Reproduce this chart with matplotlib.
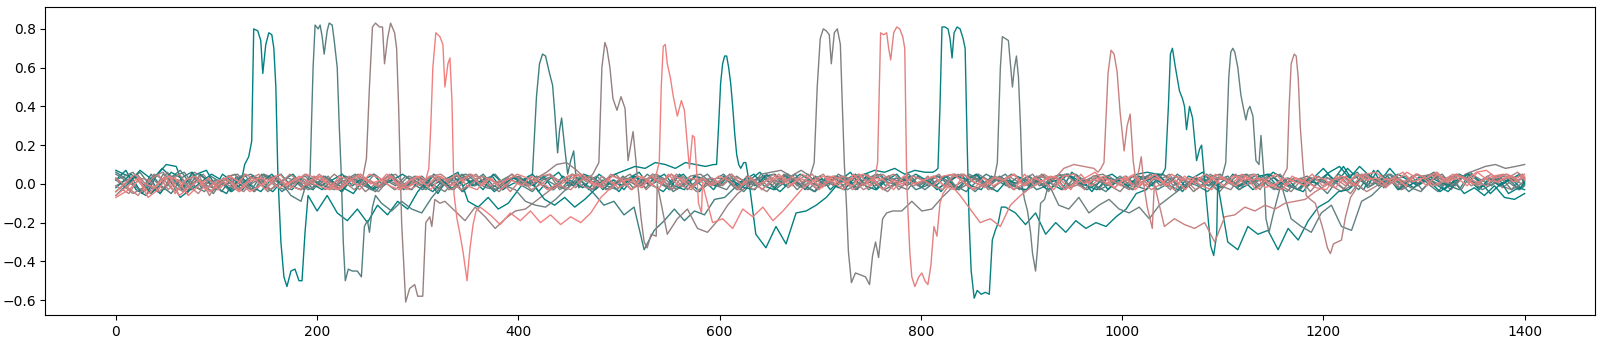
import numpy as np
import matplotlib.pyplot as plt

# baseline samples every 10 steps (values in hundredths), 0..1400
x_base = np.arange(0, 1401, 10)
# small per-trace shift of the sampling grid
phases = [0, 4, 7, 2, 5, 8, 3, 6, 1, 9, 4, 7, 2, 5, 8, 3]

base_0 = [2, 7, -3, -6, 4, 10, 9, -5, 5, 7,
          -2, -5, 4, 8, 0, 0, 0, -48, -47, -8,
          -14, -6, -15, -19, -13, -20, -11, -16, -9, -13,
          -4, 2, -5, 3, 6, -9, -12, -7, -13, -10,
          -3, 4, -4, 2, 6, -1, 3, -3, 5, 1,
          -4, 3, 6, -1, 2, -3, 5, 1, -4, 3,
          -1, 5, -3, 2, 6, 0, -4, 1, 5, 2,
          4, -3, 2, 6, -1, 1, 5, -2, 2, 4,
          -2, 3, -4, 2, 5, -1, -3, 4, 1, 5,
          3, -2, 5, 0, -3, 6, 2, -4, 3, 5,
          1, -3, 4, -1, 5, 2, -4, 3, 6, 0,
          -2, 5, 2, -3, 1, 6, 3, -2, -4, 3,
          8, 2, 9, 1, -3, 7, -2, 4, 1, -2,
          3, 6, -3, 1, -5, -2, -6, -1, -7, -8,
          -5]
ev_x_0 = [125, 128, 132, 135, 137, 141, 144, 146, 149, 152, 155, 157, 159, 161,
          164, 167, 170, 174, 178, 182, 185, 188, 191]
ev_y_0 = [2, 10, 14, 22, 80, 79, 74, 57, 72, 78, 77, 70, 50, 5,
          -30, -48, -53, -45, -44, -50, -50, -25, -6]

base_1 = [-4, 2, 6, -1, -5, 3, 7, 0, -3, 4,
          1, -4, 3, 5, 2, -3, 1, -6, -9, -4,
          0, 0, 0, 0, 0, -46, -10, -14, -9, -13,
          -15, -7, -1, 3, -4, 1, 4, -2, 2, 5,
          -1, -4, 2, 4, -2, 5, 1, -3, 2, -1,
          4, -2, 1, 5, 2, -4, 0, 3, -2, 2,
          5, 0, -4, 2, 4, -2, 5, 1, -1, -4,
          2, 4, -2, 1, 5, 2, -3, 0, 4, 1,
          -3, 1, 4, 5, 0, -4, 1, 2, 5, -1,
          -4, 2, -1, 4, -3, 5, 1, -1, -4, 2,
          4, -1, -3, 5, 1, -4, 0, 3, 2, -3,
          0, 4, 5, -2, 2, -1, -4, 2, 4, 0,
          -5, 2, 4, 6, -2, 1, 4, -3, 2, 5,
          0, -4, 2, 5, 3, -2, 0, 4, 1, -3,
          0]
ev_x_1 = [188, 193, 196, 198, 201, 203, 205, 207, 210, 212, 215, 217, 220, 222,
          224, 226, 228, 231, 235, 240, 244, 247, 250, 252, 255, 258]
ev_y_1 = [-2, 5, 60, 82, 80, 82, 76, 67, 79, 83, 82, 74, 60, 30,
          5, -30, -50, -44, -45, -45, -48, -22, -19, -25, -12, -6]

base_2 = [2, -5, -2, 4, 6, -1, -4, 2, 5, -2,
          3, -1, -4, 2, 5, 3, -1, 2, -3, 4,
          0, 5, 1, -3, 4, 0, 0, 0, 0, 0,
          0, -20, -9, -14, -19, -12, -17, -23, -18, -14,
          -13, -9, -5, -1, 3, -2, 4, -3, 2, 5,
          -1, 4, -3, 2, -1, 5, 1, -4, 0, 3,
          2, -3, 4, -1, -4, 2, 5, -1, 2, -3,
          0, 4, 1, -3, 5, -1, -4, 2, 3, -1,
          4, -2, 0, 5, 1, 3, -3, 0, 4, 1,
          -1, 2, -4, 3, 5, -1, 2, -3, 4, 0,
          -3, 4, -1, 2, 5, -2, 0, 3, 1, -4,
          2, -1, 4, -3, 5, 1, -2, 3, -4, 2,
          3, -1, -5, 2, 4, -1, 3, -3, 2, 0,
          5, 1, -3, 4, -1, 2, 5, -1, -3, 3,
          1]
ev_x_2 = [243, 246, 249, 252, 255, 258, 262, 265, 267, 270, 273, 277, 279, 281,
          284, 288, 292, 297, 300, 305, 308, 312, 314, 317, 322]
ev_y_2 = [0, 5, 13, 50, 81, 83, 81, 81, 62, 75, 83, 78, 70, 40,
          -20, -61, -54, -52, -58, -58, -20, -17, -22, -8, -10]

base_3 = [-6, -1, 3, -7, -3, 4, 2, -6, -1, 3,
          -3, 2, -4, 1, 3, 2, -2, 0, 4, 1,
          -1, -3, 4, 2, -1, 5, 3, -1, -3, 2,
          4, 0, 0, 0, 0, 0, 0, -16, -21, -15,
          -19, -14, -20, -16, -21, -17, -20, -15, -7, -2,
          1, 3, -2, 4, 0, 5, 2, -2, 3, -1,
          2, 5, -1, 3, -3, 2, 4, -1, 5, 2,
          -2, 4, 2, -1, 5, 3, -3, 2, 0, 4,
          2, -1, 4, 5, 1, -3, 3, -1, 2, 5,
          -1, 3, 1, -3, 4, 5, 0, 2, 4, -2,
          2, 5, -1, 3, 1, -3, 4, 0, 5, 2,
          -1, 4, 2, 5, -2, 0, 3, 1, -1, 4,
          2, -2, 4, -1, 5, 6, 2, 3, -1, 5,
          3, 6, 1, 5, 2, 6, 7, 3, 5, 3,
          5]
ev_x_3 = [308, 311, 313, 315, 318, 322, 325, 327, 330, 332, 334, 336, 339, 342,
          345, 349, 352, 355, 358, 362]
ev_y_3 = [2, 8, 30, 60, 78, 76, 72, 50, 62, 65, 43, -5, -18, -26,
          -35, -50, -33, -21, -14, -12]

base_4 = [6, 1, -4, 5, -1, -5, 3, 6, -2, 2,
          -4, 3, -1, -3, 5, 2, -4, 0, 2, -2,
          2, -1, -4, 3, 1, -3, 0, 4, -2, 0,
          -3, 4, -1, 2, -4, 1, 5, -1, -3, 3,
          0, 0, 0, 0, 0, 0, 0, -5, -11, -9,
          -16, -12, -34, -24, -19, -13, -19, -14, -16, -8,
          -7, -2, 2, -1, 4, -3, 1, 5, -1, -4,
          2, -1, 4, -3, 1, 5, -1, 3, 2, -3,
          -1, 4, 2, -1, -4, 1, 5, 2, -1, 3,
          2, -3, -1, 4, 5, 1, -3, 0, 3, 2,
          -1, 2, 4, -3, 0, 5, 1, -1, -4, 2,
          4, -1, 2, 5, -1, -3, 3, 1, -1, 4,
          0, 5, 2, -3, 4, -1, 5, 1, -4, 0,
          2, 4, -1, -3, 5, 1, 3, -1, 2, -3,
          -1]
ev_x_4 = [410, 414, 418, 421, 424, 427, 431, 434, 436, 439, 441, 443, 446, 449,
          452, 455, 457, 460]
ev_y_4 = [0, 5, 45, 62, 67, 66, 57, 51, 38, 16, 28, 34, 19, 5,
          12, 17, 5, -2]

base_5 = [-1, 4, -2, 5, 2, -4, 0, 6, 3, -3,
          2, 5, -1, -4, 2, 4, -2, 1, 5, 1,
          -3, 1, 4, 2, -4, 0, 3, 5, -1, 3,
          2, -3, 1, 4, 2, 5, -1, -3, 3, 1,
          -1, 3, 6, 10, 11, 7, 2, 4, -1, 0,
          0, 0, 0, 0, -26, -18, -13, -23, -25, -19,
          -11, -5, -1, 3, -1, 4, -2, 2, 5, -1,
          3, -2, 1, 5, 2, -1, 4, -3, 2, 0,
          2, 5, -1, -3, 4, 1, -1, 3, -2, 2,
          -1, 4, 2, 5, -2, 0, 3, 1, -1, -4,
          2, -1, 5, 2, -3, 4, 0, 2, 5, -1,
          -3, 4, 0, 2, 5, -1, -4, 2, 3, 1,
          -1, -4, 2, 5, 0, 3, 2, -3, 0, 4,
          5, 2, -1, 3, 1, -1, 3, -2, 2, 0,
          3]
ev_x_5 = [474, 477, 480, 483, 486, 488, 491, 494, 498, 502, 506, 509, 511, 514,
          517, 519, 522, 525, 528, 532, 537]
ev_y_5 = [5, 8, 11, 60, 73, 70, 60, 44, 38, 45, 39, 12, 18, 27,
          11, -2, -18, -30, -33, -26, -27]

base_6 = [-7, -3, 2, -5, 1, 4, -6, -2, 2, -4,
          0, 4, 1, -4, -1, 2, 5, -1, -3, 2,
          4, -1, -3, 2, 5, 0, 2, 4, -2, -1,
          2, -3, 4, -1, 2, 5, -1, 3, -3, 2,
          -1, 4, 1, -3, 0, 3, 5, 1, -2, 4,
          2, -3, 4, -1, 0, 0, 0, 0, 0, -20,
          -18, -23, -13, -17, -12, -19, -14, -8, -2, 1,
          4, 1, -3, 5, -1, 3, 2, -3, 4, 0,
          2, 4, -1, -3, 5, 1, -2, 3, 2, -3,
          5, -1, 2, 4, -3, 0, 3, 6, 1, -2,
          4, -3, 2, 5, -1, 2, -3, 4, 0, 5,
          2, -1, 4, -3, 2, 5, -1, 3, 1, -2,
          -3, 4, 0, 5, 2, 3, -1, 2, 6, 3,
          -1, 5, 1, 3, -1, 6, 2, 1, 4, 2,
          4]
ev_x_6 = [536, 540, 542, 544, 546, 548, 551, 554, 558, 562, 565, 568, 570, 573,
          575, 577, 579, 582]
ev_y_6 = [3, 11, 50, 71, 72, 62, 55, 45, 35, 43, 38, 20, 8, 25,
          24, 8, -10, -15]

base_7 = [7, 3, -5, 2, 8, 3, -3, 6, -1, -4,
          5, 1, -3, 4, -1, -4, 2, 5, -1, -3,
          4, 1, -2, -5, 2, 5, -1, 3, -3, 2,
          -1, 5, 1, -3, 4, -1, 2, -4, 0, 4,
          2, -1, -8, -11, -7, -12, -8, -3, 2, 5,
          7, 9, 8, 11, 10, 8, 11, 10, 9, 11,
          0, 0, 0, 0, -33, -22, -31, -15, -14, -11,
          -7, -1, 3, -2, 4, -3, 2, 5, -1, 3,
          2, -3, 1, 4, 2, 5, -1, -4, 2, 0,
          4, 1, -3, 0, 5, 2, -1, 4, -3, 2,
          -1, 4, 2, 5, -1, -3, 4, 2, -1, 3,
          2, -3, 0, 4, 5, 1, -1, -3, 3, 2,
          6, 9, 3, 9, 4, 1, 8, 2, -1, 4,
          1, -4, 0, 3, 6, 1, -5, 0, 3, -2,
          1]
ev_x_7 = [594, 597, 599, 601, 603, 605, 607, 609, 611, 613, 615, 617, 619, 621,
          624, 626, 629, 632, 636]
ev_y_7 = [10, 10, 30, 52, 62, 66, 66, 60, 52, 40, 26, 15, 10, 8,
          11, 11, 2, -10, -26]

base_8 = [3, -2, 5, -1, -4, 6, 1, -5, 3, -1,
          -3, 4, 5, -1, 2, -4, 0, 3, 1, -3,
          -1, 4, -3, 2, 5, -1, -4, 2, -1, 4,
          2, -1, 4, -3, 0, 5, 1, -1, -4, 2,
          4, -1, 2, 5, -3, 0, 3, 2, -1, -3,
          2, 5, -1, 3, 1, -3, 0, 4, 5, 1,
          -1, 3, 1, -2, 5, 6, 7, 4, 7, 5,
          0, 0, 0, 0, 0, 0, 0, 0, -14, -9,
          -14, -13, -7, -2, 1, 4, 0, -3, 3, -1,
          2, 5, -1, 3, -3, 2, -1, 4, 5, 1,
          -1, -3, 4, 2, 5, -1, 2, -4, 0, 4,
          2, -1, 4, 5, 1, -3, 0, 3, 2, -1,
          4, 1, -3, 0, 5, 3, -1, 2, 4, 0,
          2, 5, 3, -1, 5, 7, 9, 10, 8, 9,
          10]
ev_x_8 = [690, 694, 697, 700, 703, 706, 709, 711, 714, 717, 720, 722, 724, 726,
          728, 731, 735, 740, 745, 749, 752, 755, 758, 762, 766, 772, 778]
ev_y_8 = [4, 11, 50, 75, 80, 79, 77, 62, 78, 80, 72, 40, 10, -10,
          -35, -51, -46, -47, -48, -52, -37, -30, -38, -18, -15, -14, -14]

base_9 = [-4, 5, 0, -2, 4, -5, 2, 4, -3, 1,
          3, -1, 5, 2, -3, 4, 0, 2, 5, 3,
          1, -3, 0, 4, 2, -1, 5, 1, -3, 4,
          -1, 4, 2, 5, -1, -3, 3, 0, 2, 5,
          3, 1, -3, 0, 4, 5, 1, -1, 3, -2,
          0, 4, 2, -3, 5, -1, 3, 2, -1, 4,
          2, -3, 4, 0, 2, 5, -1, 3, 1, -3,
          4, 0, 2, 5, -1, 3, 1, -2, 0, 0,
          0, 0, 0, -6, -13, -20, -18, -22, -11, -6,
          -2, 1, 4, 2, -3, 5, -1, 3, 2, -1,
          4, 1, -3, 0, 5, 2, 3, -1, -3, 4,
          0, 5, 2, 3, -1, -3, 4, 1, 5, -1,
          2, 4, -1, 5, 2, -1, 3, 6, 1, 3,
          -1, 2, 5, 3, 0, 2, 4, 5, 1, 3,
          2]
ev_x_9 = [752, 755, 757, 760, 763, 766, 768, 770, 773, 776, 779, 782, 784, 786,
          789, 791, 794, 798, 801, 804, 807, 810, 813, 816, 819, 822]
ev_y_9 = [2, 5, 11, 78, 77, 78, 70, 64, 78, 81, 80, 76, 70, 0,
          -35, -48, -53, -48, -46, -50, -52, -42, -22, -27, -10, -5]

base_10 = [-6, 1, 7, 3, -5, 2, -7, -3, 5, 0,
           2, -3, 4, -1, -4, 2, 5, -1, -3, 3,
           -1, 2, -4, 3, 0, -3, 2, 5, -1, -3,
           4, -1, 2, -3, 5, -1, 2, 4, -3, 0,
           2, 5, -1, -3, 4, 1, -2, 3, -3, 2,
           -1, 4, 2, -1, -4, 2, 5, -1, 2, -3,
           4, -1, 2, 5, -1, -3, 4, 2, -1, 3,
           2, -1, -3, 3, 5, 7, 6, 8, 5, 7,
           6, 0, 0, 0, 0, 0, 0, 0, -12, -15,
           -21, -15, -26, -20, -25, -19, -23, -20, -22, -17,
           -13, -5, -3, 2, -1, 4, -2, 2, 5, -1,
           3, -2, 1, 2, 5, -1, 3, -3, 2, 0,
           5, 1, 8, 3, -1, 7, 1, 5, 2, -1,
           3, -1, -4, 2, 5, -2, 0, 3, -5, -2,
           -3]
ev_x_10 = [812, 815, 817, 819, 821, 824, 827, 829, 831, 833, 836, 839, 842, 844,
           846, 848, 850, 853, 856, 860, 864, 868, 871, 874, 877, 880]
ev_y_10 = [6, 7, 8, 40, 81, 81, 80, 75, 65, 78, 81, 80, 75, 70,
           21, -20, -45, -59, -55, -57, -56, -57, -29, -24, -20, -12]

base_11 = [2, 6, -1, -4, 5, 1, -3, 4, 0, -5,
           3, -1, 2, -4, 5, 2, -1, 3, -3, 2,
           -1, -3, 4, 2, -1, 5, 1, -3, 0, 4,
           2, -1, -4, 2, 4, -1, 2, 5, -1, -3,
           -9, -11, -12, -8, -3, 1, 4, 2, -3, 0,
           3, 1, -2, 5, 2, -3, 0, 4, 2, -1,
           -3, 4, 0, 2, 5, -1, 3, -3, 2, -1,
           4, 2, -3, 0, 3, 5, 1, -1, -3, 4,
           -1, 2, 4, -3, 0, 5, 2, -1, 0, 0,
           0, 0, 0, -11, -13, -7, -15, -11, -8, -13,
           -15, -12, -18, -11, -7, -3, 0, 3, -1, 4,
           2, -3, 4, -1, 2, 5, -1, -3, 3, 2,
           -1, 4, -2, 2, -1, 4, 5, 1, -2, -4,
           2, -1, 4, -3, 5, 2, -1, 3, -3, 0,
           2]
ev_x_11 = [873, 876, 879, 881, 884, 887, 889, 891, 893, 895, 897, 899, 901, 903,
           906, 909, 911, 914, 916, 919, 923]
ev_y_11 = [3, 11, 60, 76, 75, 74, 62, 50, 60, 66, 55, 30, -2, -8,
           -14, -25, -36, -45, -33, -10, -8]

base_12 = [3, -2, -6, 1, 5, -3, 2, -1, -5, 2,
           -1, 4, -3, 2, 5, -1, 3, -3, 2, 0,
           5, 1, -2, 4, -3, 2, -1, 5, 1, -3,
           0, 4, 2, -3, -1, 5, 3, -1, 2, -4,
           2, -1, 4, 5, -1, -3, 2, 4, -1, 5,
           2, -3, 0, 4, 1, 5, -1, -3, 3, 0,
           2, 5, -1, 3, -3, 2, 0, 4, 1, 5,
           -1, 2, 4, -3, 0, 3, 5, 1, -1, 4,
           2, -1, -3, 4, 5, 1, -1, 3, 2, -3,
           0, 3, 5, 2, 8, 10, 9, 8, 0, 0,
           0, 0, 0, 0, -22, -18, -21, -23, -20, -30,
           -17, -16, -12, -14, -11, -13, -10, -9, -8, -4,
           -1, 3, -1, 4, 5, 1, -2, 3, 1, 5,
           3, -1, 2, 5, 3, 1, -1, 4, 5, 2,
           3]
ev_x_12 = [976, 979, 982, 986, 989, 992, 995, 998, 1000, 1002, 1005, 1008, 1011,
           1014, 1017, 1019, 1022, 1025, 1030]
ev_y_12 = [6, 8, 11, 57, 69, 67, 58, 37, 27, 17, 30, 36, 12,
           0, 8, 14, -2, -12, -23]

base_13 = [-2, 5, 1, -5, 0, 6, 3, -3, 1, 5,
           2, -4, 0, 4, 1, 5, -1, -3, 3, 0,
           -3, 2, 5, -1, 3, -3, 0, 2, 5, 1,
           -1, -4, 2, 4, -1, 2, -3, 5, 0, 3,
           2, -1, 4, -3, 2, -1, 5, 3, -1, 2,
           -3, 4, 0, 2, 5, -1, -3, 4, 2, -1,
           3, 1, -2, -3, 4, 5, -1, 2, -3, 4,
           -1, 4, 2, 5, -1, -3, 3, 0, 2, 5,
           2, -1, 4, -3, 2, 5, -1, 3, 1, -2,
           -3, 4, 0, 2, 5, 1, -1, -3, 3, 0,
           2, 5, 6, 5, 0, 0, 0, 0, 0, 0,
           -30, -34, -22, -26, -24, -34, -23, -29, -19, -12,
           -9, -4, -3, 2, 5, -1, 3, -3, 2, 0,
           4, 1, -1, 5, 2, -3, 3, -1, 2, 5,
           0]
ev_x_13 = [1040, 1043, 1046, 1048, 1050, 1053, 1057, 1060, 1062, 1064, 1067, 1070,
           1074, 1077, 1079, 1082, 1085, 1088, 1091, 1094]
ev_y_13 = [5, 8, 40, 67, 70, 60, 48, 44, 40, 28, 40, 34,
           12, 18, 20, 2, -15, -32, -37, -26]

base_14 = [5, -1, -4, 2, -3, 4, 6, -1, -4, 2,
           -1, 2, 5, -3, 4, -1, -3, 2, 4, -1,
           4, -1, 2, 5, -1, -4, 2, -1, 4, 1,
           -3, 2, -1, 4, 5, 1, -2, -3, 2, 4,
           -1, 4, 2, -1, -3, 5, 1, 4, -1, -3,
           2, -1, 5, 1, -2, 4, -3, 2, 5, -1,
           4, -3, 2, -1, 4, 1, 5, -1, -3, 2,
           -1, 5, 2, 4, -3, 0, 4, 1, 5, -1,
           2, 4, -1, -3, 5, 2, -1, 4, 1, -3,
           4, -1, 2, 5, -1, 3, 1, -3, 0, 4,
           -1, 2, 5, -1, 3, -3, 2, -1, 4, 5,
           0, 0, 0, 0, 0, 0, -18, -22, -25, -15,
           -11, -22, -24, -9, -6, -1, 3, -1, 4, -3,
           2, 5, -1, 4, 1, -3, 0, 4, 2, 5,
           2]
ev_x_14 = [1099, 1103, 1106, 1108, 1110, 1112, 1115, 1118, 1121, 1123, 1125, 1127,
           1130, 1133, 1136, 1138, 1141, 1143, 1146, 1150]
ev_y_14 = [3, 11, 55, 68, 70, 68, 60, 46, 38, 33, 38, 40,
           35, 12, 10, 25, 4, -18, -25, -16]

base_15 = [-1, -5, 3, 2, -4, 1, 5, -2, 4, -6,
           2, -1, -4, 3, 2, -3, 0, 5, 1, -1,
           4, -3, 2, -1, 5, 1, -2, 4, -3, 2,
           -1, 4, 5, 1, -3, 0, 4, 2, -1, 5,
           2, -3, 0, 4, 1, 5, -1, -3, 4, 0,
           3, 1, -2, 5, 2, -3, 4, -1, 2, 3,
           -1, 4, 2, -3, 0, 5, 1, 3, -1, 2,
           5, -1, 4, 2, -3, 0, 3, 5, 1, -1,
           2, 4, -1, 5, 1, -3, 0, 4, 2, 5,
           -1, 2, 4, -1, 5, 1, -3, 4, 0, 2,
           3, -1, 2, 5, -1, 4, 2, -3, 0, 3,
           2, 5, -1, 3, 1, -1, 4, 2, -3, 0,
           0, 0, 0, 0, -4, -1, 3, -1, 2, 5,
           3, 6, 1, 4, 2, -1, 4, 1, 3, 6,
           3]
ev_x_15 = [1160, 1164, 1166, 1168, 1171, 1173, 1175, 1177, 1180, 1183, 1187, 1192,
           1196, 1200, 1204, 1207, 1210, 1214, 1218, 1222, 1227, 1232]
ev_y_15 = [4, 8, 40, 62, 67, 66, 55, 30, 8, -6, -8, -10,
           -17, -24, -33, -36, -31, -30, -29, -17, -7, -3]

colors = ['#008080', '#528080', '#9a8080', '#f08080', '#3d7f7f', '#948080',
          '#f08080', '#008080', '#808080', '#e38080', '#088080', '#6f8080',
          '#c88080', '#0a8080', '#628080', '#b88080']

bases = [base_0, base_1, base_2, base_3, base_4, base_5, base_6, base_7,
         base_8, base_9, base_10, base_11, base_12, base_13, base_14, base_15]
ev_xs = [ev_x_0, ev_x_1, ev_x_2, ev_x_3, ev_x_4, ev_x_5, ev_x_6, ev_x_7,
         ev_x_8, ev_x_9, ev_x_10, ev_x_11, ev_x_12, ev_x_13, ev_x_14, ev_x_15]
ev_ys = [ev_y_0, ev_y_1, ev_y_2, ev_y_3, ev_y_4, ev_y_5, ev_y_6, ev_y_7,
         ev_y_8, ev_y_9, ev_y_10, ev_y_11, ev_y_12, ev_y_13, ev_y_14, ev_y_15]


def build(base, ev_x, ev_y, phase):
    xb = (x_base + phase).astype(float)
    xb[0], xb[-1] = 0, 1400
    keep = (xb < ev_x[0]) | (xb > ev_x[-1])
    x = np.concatenate([xb[keep], ev_x])
    y = np.concatenate([np.array(base)[keep], ev_y]) / 100.0
    order = np.argsort(x)
    return x[order], y[order]


fig = plt.figure(figsize=(16.05, 3.47), dpi=100)
ax = fig.add_axes([0.0283, 0.0922, 0.9655, 0.887])
for base, ex, ey, c, ph in zip(bases, ev_xs, ev_ys, colors, phases):
    x, y = build(base, ex, ey, ph)
    # reddish traces sit on top of the bundle, as in the original
    z = 3 if c[1] in 'cdef' else 2
    ax.plot(x, y, color=c, linewidth=1.0, zorder=z)
ax.set_ylim(-0.677, 0.912)
plt.savefig('out.png')
